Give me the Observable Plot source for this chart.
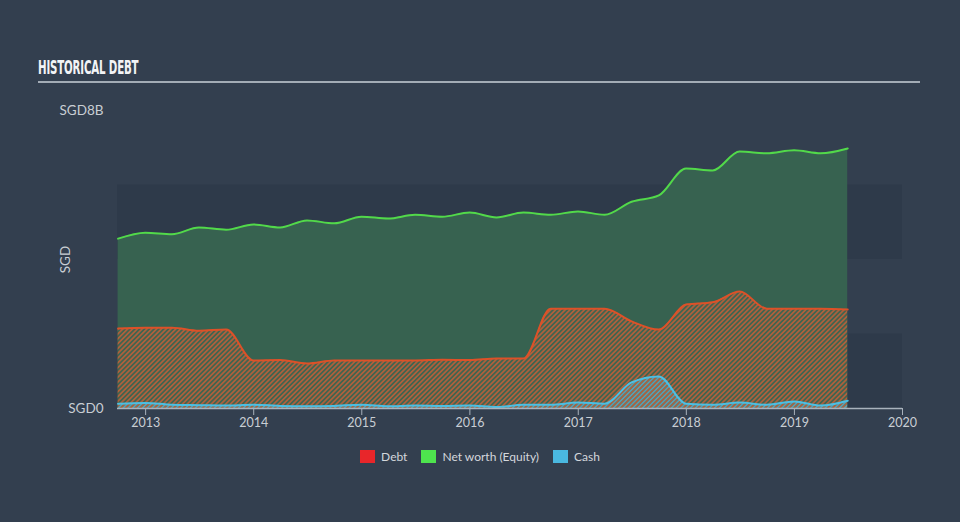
<!DOCTYPE html>
<html>
<head>
<meta charset="utf-8">
<script src="https://cdn.jsdelivr.net/npm/d3@7"></script>
<script src="https://cdn.jsdelivr.net/npm/@observablehq/plot@0.6"></script>
<style>
  html, body { margin: 0; padding: 0; background: #333f4f; }
  #wrap { position: relative; width: 960px; height: 522px; background: #333f4f; overflow: hidden; font-family: Lato, "Open Sans", sans-serif; }
  #title { position: absolute; left: 38px; top: 56px; color: #f2f4f6; font-family: "Liberation Sans Narrow", "DejaVu Sans Condensed", sans-serif; font-weight: bold; font-size: 19px; letter-spacing: -0.3px; transform-origin: left top; transform: scaleX(0.6); white-space: nowrap; }
  #rule { position: absolute; left: 38px; top: 81px; width: 882px; height: 2px; background: #a3acb6; }
  #chart { position: absolute; left: 0; top: 90px; }
  #legend { position: absolute; top: 449px; left: 0; width: 960px; display: flex; justify-content: center; gap: 0; font-size: 12px; color: #d3d7dc; }
  .item { display: flex; align-items: center; margin: 0 7px; }
  .sw { width: 15px; height: 13px; margin-right: 6px; }
</style>
</head>
<body>
<div id="wrap">
  <div id="title">HISTORICAL DEBT</div>
  <div id="rule"></div>
  <div id="chart"></div>
  <div id="legend"></div>
</div>
<script>
const quarters = ["2012-09-30","2012-12-31","2013-03-31","2013-06-30","2013-09-30","2013-12-31","2014-03-31","2014-06-30","2014-09-30","2014-12-31","2015-03-31","2015-06-30","2015-09-30","2015-12-31","2016-03-31","2016-06-30","2016-09-30","2016-12-31","2017-03-31","2017-06-30","2017-09-30","2017-12-31","2018-03-31","2018-06-30","2018-09-30","2018-12-31","2019-03-31","2019-06-30"];
const equity = [4.56,4.72,4.68,4.86,4.80,4.94,4.86,5.05,4.97,5.15,5.10,5.20,5.15,5.26,5.13,5.26,5.20,5.29,5.20,5.55,5.72,6.44,6.39,6.90,6.85,6.93,6.85,6.98];
const debt = [2.15,2.17,2.17,2.09,2.12,1.29,1.30,1.21,1.29,1.29,1.29,1.29,1.31,1.30,1.34,1.34,2.68,2.68,2.68,2.34,2.12,2.79,2.85,3.14,2.68,2.68,2.68,2.66];
const cash = [0.13,0.15,0.10,0.09,0.08,0.10,0.07,0.06,0.07,0.10,0.06,0.08,0.07,0.08,0.04,0.10,0.10,0.16,0.13,0.70,0.86,0.13,0.10,0.16,0.10,0.19,0.08,0.21];
const yearTicks = [2013,2014,2015,2016,2017,2018,2019,2020];
const yTicks = [0, 8];
const bandRanges = [[0, 2], [4, 6]];
const seriesNames = ["Debt", "Net worth (Equity)", "Cash"];
const seriesColors = ["#e8262a", "#4ee44e", "#4ab8e0"];

const data = quarters.map((q, i) => ({date: new Date(q), equity: equity[i], debt: debt[i], cash: cash[i]}));
const xStart = new Date(Date.UTC(2012, 8, 28));
const xEnd = new Date(Date.UTC(2020, 0, 1));
const bands = bandRanges.map(([a, b]) => ({y1: a, y2: b, x1: xStart, x2: xEnd}));
const curve = "monotone-x";

const chart = Plot.plot({
  width: 960,
  height: 350,
  marginTop: 20,
  marginBottom: 32,
  marginLeft: 117,
  marginRight: 58,
  style: {background: "transparent", color: "#c9ced4", fontFamily: "Lato, 'Open Sans', sans-serif", fontSize: "12px"},
  x: {type: "utc", domain: [xStart, xEnd]},
  y: {domain: [0, 8]},
  marks: [
    Plot.rect(bands, {x1: "x1", x2: "x2", y1: "y1", y2: "y2", fill: "#2e3a4a"}),
    Plot.areaY(data, {x: "date", y: "equity", fill: "#376250", curve}),
    Plot.areaY(data, {x: "date", y: "debt", fill: "url(#hatchDebt)", curve}),
    Plot.areaY(data, {x: "date", y: "cash", fill: "url(#hatchCash)", curve}),
    Plot.lineY(data, {x: "date", y: "equity", stroke: "#52d94a", strokeWidth: 2, curve}),
    Plot.lineY(data, {x: "date", y: "debt", stroke: "#dd5128", strokeWidth: 2, curve}),
    Plot.lineY(data, {x: "date", y: "cash", stroke: "#4cbfe3", strokeWidth: 2, curve}),
    Plot.ruleY([0], {stroke: "#a9b2bc", strokeWidth: 1.5}),
    Plot.axisX({ticks: yearTicks.map(y => new Date(Date.UTC(y, 0, 1))), tickFormat: d3.utcFormat("%Y"), tickSize: 7, stroke: "#a9b2bc", tickPadding: 3, label: null, fontSize: 12.5}),
    Plot.axisY({ticks: yTicks, tickFormat: d => d === 0 ? "SGD0" : `SGD${d}B`, tickSize: 0, tickPadding: 14, label: "SGD", labelAnchor: "center", labelArrow: "none", labelOffset: 57, fontSize: 13.5})
  ]
});

const defs = d3.select(chart).insert("defs", ":first-child");
const pd = defs.append("pattern").attr("id", "hatchDebt").attr("patternUnits", "userSpaceOnUse")
  .attr("width", 3.4).attr("height", 3.4).attr("patternTransform", "rotate(45)");
pd.append("rect").attr("width", 3.4).attr("height", 3.4).attr("fill", "#41644f");
pd.append("rect").attr("width", 1.7).attr("height", 3.4).attr("fill", "#ad603d");
const pc = defs.append("pattern").attr("id", "hatchCash").attr("patternUnits", "userSpaceOnUse")
  .attr("width", 3.4).attr("height", 3.4).attr("patternTransform", "rotate(45)");
pc.append("rect").attr("x", 1.7).attr("width", 1.7).attr("height", 3.4).attr("fill", "#5fa8bd").attr("opacity", 0.85);

document.getElementById("chart").appendChild(chart);

const legend = document.getElementById("legend");
seriesNames.forEach((n, i) => {
  const it = document.createElement("div");
  it.className = "item";
  const sw = document.createElement("div");
  sw.className = "sw";
  sw.style.background = seriesColors[i];
  const t = document.createElement("span");
  t.textContent = n;
  it.appendChild(sw); it.appendChild(t);
  legend.appendChild(it);
});
</script>
</body>
</html>
